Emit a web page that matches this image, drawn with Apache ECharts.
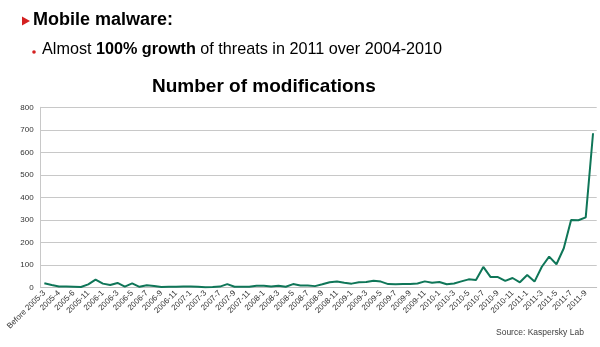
<!DOCTYPE html>
<html>
<head>
<meta charset="utf-8">
<style>
  html, body { margin: 0; padding: 0; background: #fff; }
  #chart { width: 600px; height: 347px; }
</style>
<script src="https://cdn.jsdelivr.net/npm/echarts@6/dist/echarts.min.js"></script>
</head>
<body>
<div id="chart"></div>
<script>
// Reporting periods (every other one is labelled on the axis)
const periods = [
  'Before 2005-3', '2005-3', '2005-4', '2005-5', '2005-6', '2005-8', '2005-11', '2005-12',
  '2006-1', '2006-2', '2006-3', '2006-4', '2006-5', '2006-6', '2006-7', '2006-8',
  '2006-9', '2006-10', '2006-11', '2006-12', '2007-1', '2007-2', '2007-3', '2007-5',
  '2007-7', '2007-8', '2007-9', '2007-10', '2007-11', '2007-12',
  '2008-1', '2008-2', '2008-3', '2008-4', '2008-5', '2008-6', '2008-7', '2008-8',
  '2008-9', '2008-10', '2008-11', '2008-12',
  '2009-1', '2009-2', '2009-3', '2009-4', '2009-5', '2009-6', '2009-7', '2009-8',
  '2009-9', '2009-10', '2009-11', '2009-12',
  '2010-1', '2010-2', '2010-3', '2010-4', '2010-5', '2010-6', '2010-7', '2010-8',
  '2010-9', '2010-10', '2010-11', '2010-12',
  '2011-1', '2011-2', '2011-3', '2011-4', '2011-5', '2011-6', '2011-7', '2011-8',
  '2011-9', '2011-10'
];

// Number of new mobile malware modifications per period
const modifications = [
  20, 12, 5, 5, 4, 3, 15, 36,
  18, 12, 21, 5, 19, 4, 11, 8,
  3, 4, 4, 5, 5, 4, 2, 3,
  5, 16, 4, 4, 4, 9,
  9, 5, 9, 4, 16, 10, 10, 7,
  15, 24, 27, 22,
  18, 24, 25, 31, 27, 16, 15, 16,
  16, 19, 28, 22,
  25, 15, 19, 28, 37, 34, 92, 47,
  47, 30, 43, 24,
  56, 27, 93, 138, 104, 175, 300, 299,
  312, 685
];

const yTicks = [0, 100, 200, 300, 400, 500, 600, 700, 800];

const FONT = '"Liberation Sans", Arial, sans-serif';
const chart = echarts.init(document.getElementById('chart'), null, { renderer: 'canvas' });

chart.setOption({
  animation: false,
  backgroundColor: '#ffffff',
  title: [
    {
      text: 'Mobile malware:',
      left: 33, top: 11, padding: 0,
      textStyle: { fontFamily: FONT, fontSize: 18, fontWeight: 'bold', color: '#000' }
    },
    {
      text: '{n|Almost }{b|100% growth}{n| of threats in 2011 over 2004-2010}',
      left: 42, top: 42, padding: 0,
      textStyle: {
        fontWeight: 'normal',
        rich: {
          n: { fontFamily: FONT, fontSize: 16.2, fontWeight: 'normal', color: '#000' },
          b: { fontFamily: FONT, fontSize: 16.2, fontWeight: 'bold', color: '#000' }
        }
      }
    },
    {
      text: 'Number of modifications',
      left: 152, top: 77, padding: 0,
      textStyle: { fontFamily: FONT, fontSize: 19, fontWeight: 'bold', color: '#000' }
    },
    {
      text: 'Source: Kaspersky Lab',
      left: 496, top: 328, padding: 0,
      textStyle: { fontFamily: FONT, fontSize: 8.5, fontWeight: 'normal', color: '#404040' }
    }
  ],
  graphic: [
    {
      type: 'polygon',
      shape: { points: [[22, 16.5], [30, 21], [22, 25.5]] },
      style: { fill: '#d42020' }
    },
    {
      type: 'circle',
      shape: { cx: 34, cy: 52, r: 1.8 },
      style: { fill: '#d42020' }
    }
  ],
  grid: { left: 40.7, right: 3.3, top: 107.3, bottom: 59.3, containLabel: false },
  xAxis: {
    type: 'category',
    data: periods,
    boundaryGap: true,
    axisLine: { show: true, lineStyle: { color: '#c0c0c0', width: 1 } },
    axisTick: { show: false },
    axisLabel: {
      interval: 1,
      rotate: 45,
      fontFamily: FONT,
      fontSize: 8,
      color: '#333',
      margin: 4
    }
  },
  yAxis: {
    type: 'value',
    min: yTicks[0],
    max: yTicks[yTicks.length - 1],
    interval: 100,
    axisLine: { show: true, lineStyle: { color: '#c8c8c8', width: 1 } },
    axisTick: { show: false },
    axisLabel: { fontFamily: FONT, fontSize: 8, color: '#333', margin: 7 },
    splitLine: { show: true, lineStyle: { color: '#c8c8c8', width: 1.2 } }
  },
  series: [
    {
      type: 'line',
      data: modifications,
      symbol: 'none',
      smooth: false,
      lineStyle: { color: '#0f7658', width: 2 }
    }
  ]
});
</script>
</body>
</html>
